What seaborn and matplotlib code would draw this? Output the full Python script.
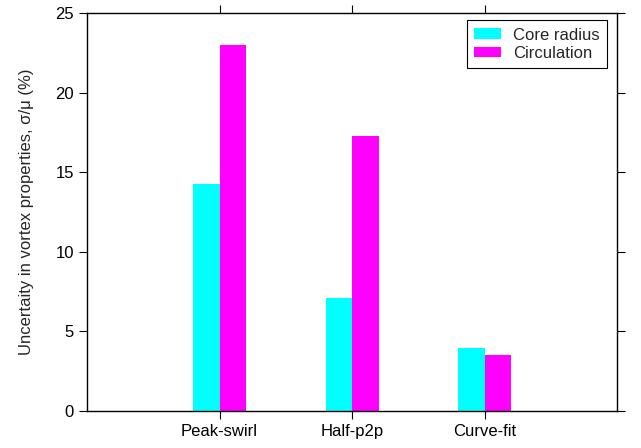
import matplotlib
matplotlib.use("Agg")
import matplotlib.pyplot as plt
import seaborn as sns
import pandas as pd

methods = ["Peak-swirl", "Half-p2p", "Curve-fit"]
core_radius = [14.25, 7.1, 3.95]
circulation = [23.0, 17.3, 3.5]
series_names = ["Core radius", "Circulation"]
colors = ["#00ffff", "#ff00ff"]

df = pd.DataFrame({
    "method": methods * 2,
    "value": core_radius + circulation,
    "property": [series_names[0]] * 3 + [series_names[1]] * 3,
})

sns.set_style("white")
plt.rcParams["font.family"] = ["Liberation Sans", "DejaVu Sans"]
plt.rcParams["font.size"] = 12

fig = plt.figure(figsize=(6.41, 4.48), dpi=100)
ax = fig.add_axes([87 / 641, 37 / 448, 530 / 641, 398 / 448])

sns.barplot(data=df, x="method", y="value", hue="property", order=methods,
            hue_order=series_names, palette=colors, width=0.4,
            saturation=1, linewidth=0, ax=ax)

ax.set_xlim(-1, 3)
ax.set_ylim(0, 25)
ax.set_yticks([0, 5, 10, 15, 20, 25])
ax.set_xlabel("")
ax.set_ylabel("Uncertaity in vortex properties, σ/μ (%)", fontsize=12,
              labelpad=15)

for s in ax.spines.values():
    s.set_color("black")
    s.set_linewidth(1.0)
ax.tick_params(axis="both", direction="out", length=6, width=0.8,
               color="black", labelsize=12, labelcolor="black",
               top=True, right=True, bottom=True, left=True)

leg = ax.legend(loc="upper right", bbox_to_anchor=(0.981, 0.982),
                fontsize=12, frameon=True, fancybox=False,
                edgecolor="black", framealpha=1, borderaxespad=0,
                handlelength=1.6, handleheight=0.6, handletextpad=0.7,
                borderpad=0.45, labelspacing=0.2)
leg.get_frame().set_linewidth(0.8)

fig.savefig("out.png", dpi=100)
